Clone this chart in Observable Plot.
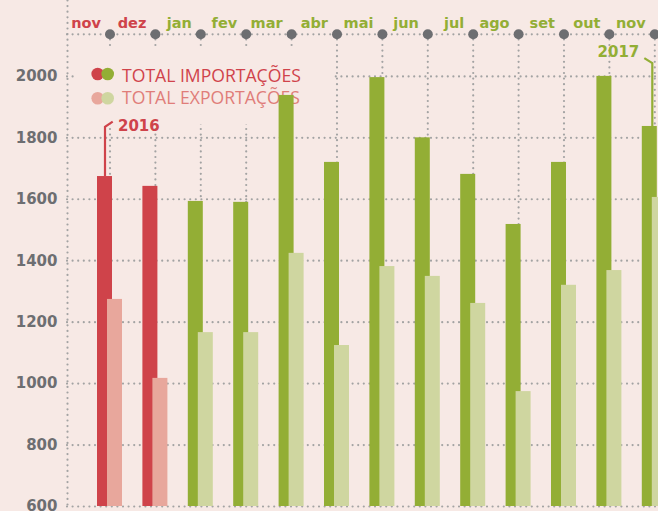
<!DOCTYPE html>
<html><head><meta charset="utf-8">
<script src="https://cdn.jsdelivr.net/npm/d3@7"></script>
<script src="https://cdn.jsdelivr.net/npm/@observablehq/plot@0.6"></script>
<style>
html,body{margin:0;padding:0;background:#f7e9e5;}
#chart{width:658px;height:511px;overflow:hidden;position:relative;}
#chart svg{display:block;}
</style></head><body><div id="chart"></div>
<script>
// ---- data ----
const monthKeys = ["2016-11","2016-12","2017-01","2017-02","2017-03","2017-04","2017-05","2017-06","2017-07","2017-08","2017-09","2017-10","2017-11"];
const monthLabels = ["nov","dez","jan","fev","mar","abr","mai","jun","jul","ago","set","out","nov"];
const years = [2016,2016,2017,2017,2017,2017,2017,2017,2017,2017,2017,2017,2017];
const importsTotal = [1674,1642,1593,1590,1938,1720,1996,1800,1681,1518,1720,2000,1837];
const exportsTotal = [1274,1017,1166,1166,1424,1124,1381,1349,1261,974,1320,1368,1606];
const yTicks = [600,800,1000,1200,1400,1600,1800,2000];
const legendLabels = ["TOTAL IMPORTAÇÕES","TOTAL EXPORTAÇÕES"];
const yearNotes = [{text:"2016", key:"2016-11", idx:0},{text:"2017", key:"2017-11", idx:12}];

// ---- styles ----
const BG = "#f7e9e5";
const impColor = {2016:"#cf434a", 2017:"#93ae35"};
const expColor = {2016:"#e8a79c", 2017:"#cfd6a0"};
const legendTextColor = ["#d0434b","#e07d79"];
const dotted = {stroke:"#a3a3a3", strokeOpacity:1, strokeWidth:2.2, strokeDasharray:"0 5.6", strokeLinecap:"round"};
const RAIL = 2137;       // value level of the month rail at the top
const Y_MAX = 2247;      // top of the frame

const rows = monthKeys.map((key,i)=>({key, label:monthLabels[i], year:years[i], imp:importsTotal[i], exp:exportsTotal[i]}));

function legendMark(index, scales, values, dims) {
  const g = d3.create("svg:g").attr("text-anchor","start");
  g.append("rect").attr("x",76).attr("y",49).attr("width",256).attr("height",75).attr("fill",BG);
  const sets = [[impColor[2016], impColor[2017]],[expColor[2016], expColor[2017]]];
  legendLabels.forEach((lab,i)=>{
    const cy = 74 + i*24.3;
    g.append("circle").attr("cx",97.7).attr("cy",cy).attr("r",6.3).attr("fill",sets[i][0]);
    g.append("circle").attr("cx",107.7).attr("cy",cy).attr("r",6.3).attr("fill",sets[i][1]);
    g.append("text").attr("x",122).attr("y",[81.7,104][i]).attr("text-anchor","start")
      .attr("font-family","'Open Sans', sans-serif").attr("font-size",17.6)
      .attr("fill",legendTextColor[i]).text(lab);
  });
  return g.node();
}

function notesMark(index, {x, y}) {
  const g = d3.create("svg:g");
  const bw = x.bandwidth();
  const y2000 = y(2000);
  // 2016
  {
    const n = yearNotes[0];
    const c = x(n.key) + bw/2;
    const top = y(importsTotal[n.idx]);
    const col = impColor[2016];
    g.append("path").attr("d",`M${c-4.5},${top}L${c-4.5},${y2000+51}L${c+3.2},${y2000+45.7}`)
      .attr("fill","none").attr("stroke",col).attr("stroke-width",2.2);
    g.append("text").attr("x",c+8.5).attr("y",y2000+54.7).attr("fill",col).attr("text-anchor","start")
      .attr("font-family","'DejaVu Sans', sans-serif").attr("font-weight","bold").attr("font-size",15).text(n.text);
  }
  // 2017
  {
    const n = yearNotes[1];
    const c = x(n.key) + bw/2;
    const top = y(importsTotal[n.idx]);
    const col = impColor[2017];
    g.append("path").attr("d",`M${c-2},${top}L${c-2},${y2000-12.7}L${c-10},${y2000-17.7}`)
      .attr("fill","none").attr("stroke",col).attr("stroke-width",2.2);
    g.append("text").attr("x",c-15).attr("y",y2000-19.3).attr("fill",col).attr("text-anchor","end")
      .attr("font-family","'DejaVu Sans', sans-serif").attr("font-weight","bold").attr("font-size",15).text(n.text);
  }
  return g.node();
}

const chart = Plot.plot({
  width: 658,
  height: 511,
  marginTop: 0,
  marginBottom: 5,
  marginLeft: 67,
  marginRight: 0,
  style: {background: BG, fontFamily: "'DejaVu Sans', sans-serif", overflow: "hidden"},
  x: {type: "band", domain: monthKeys, range: [86.8, 86.8 + 13*45.4], padding: 0, round: false, axis: null},
  y: {domain: [600, Y_MAX], axis: null},
  marks: [
    Plot.gridY(yTicks, dotted),
    Plot.ruleX(rows, {x: "key", y1: RAIL, y2: 600, ...dotted}),
    Plot.ruleY([RAIL], dotted),
    Plot.frame({anchor: "left", ...dotted}),
    legendMark,
    Plot.barY(rows, {x: "key", y1: 600, y2: "imp", fill: d => impColor[d.year], insetLeft: 10.2, insetRight: 20.2}),
    Plot.barY(rows, {x: "key", y1: 600, y2: "exp", fill: d => expColor[d.year], insetLeft: 20.2, insetRight: 10.2}),
    Plot.dot(rows, {x: "key", y: RAIL, r: 5, fill: "#6d6e71", stroke: null}),
    Plot.text(rows, {x: "key", y: RAIL, text: "label", fill: d => impColor[d.year], dx: -9, dy: -11, textAnchor: "end", fontSize: 14.5, fontWeight: "bold"}),
    notesMark,
    Plot.axisY(yTicks, {anchor: "left", tickSize: 0, tickPadding: 10, fontSize: 15, fontWeight: "bold", fill: "#6d6e71", label: null, tickFormat: d => String(d)})
  ]
});
document.getElementById("chart").appendChild(chart);
</script></body></html>
